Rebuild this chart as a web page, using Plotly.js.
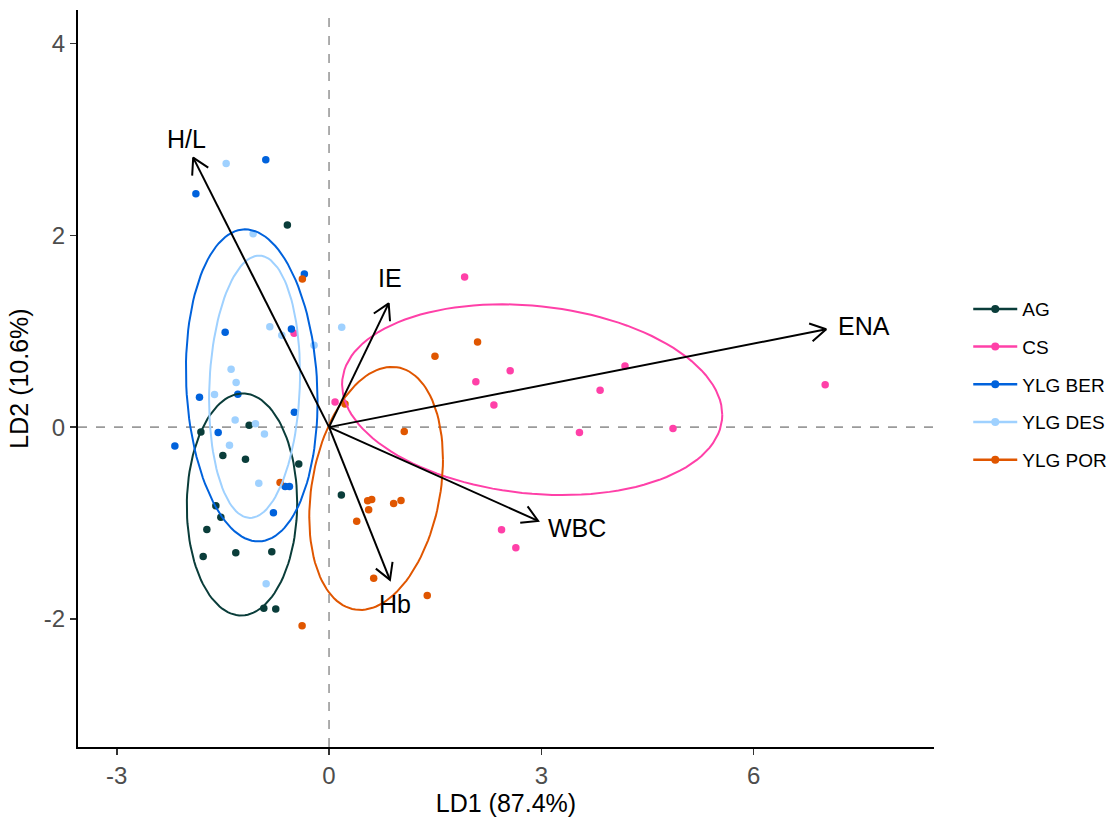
<!DOCTYPE html>
<html><head><meta charset="utf-8">
<script src="https://cdn.plot.ly/plotly-3.0.1.min.js"></script>
<style>html,body{margin:0;padding:0;background:#fff}</style>
</head><body><div id="chart" style="width:1114px;height:817px"></div>
<script>
// ---- data ----
const groups = ['AG', 'CS', 'YLG BER', 'YLG DES', 'YLG POR'];
const groupColors = ['#0A3D3A', '#FF40A8', '#0062DC', '#9FD1FF', '#E05600'];

const agX = [-0.589, -1.129, -1.811, -1.501, -1.181, -0.428, -1.600, -1.529, -1.727, -1.779, -1.318, -0.809, -0.922, -0.753, 0.174];
const agY = [2.107, 0.020, -0.050, -0.297, -0.335, -0.384, -0.821, -0.939, -1.068, -1.349, -1.311, -1.300, -1.888, -1.898, -0.707];

const csX = [-0.494, 0.085, 1.916, 2.075, 2.560, 4.183, 3.831, 2.330, 3.539, 4.861, 7.012, 2.438, 2.640];
const csY = [0.979, 0.262, 1.565, 0.474, 0.589, 0.638, 0.384, 0.231, -0.057, -0.015, 0.443, -1.071, -1.259];

const berX = [-0.894, -1.882, -0.349, -0.532, -1.468, -1.289, -1.831, -0.490, -1.567, -2.179, -0.621, -0.560, -0.786];
const berY = [2.788, 2.434, 1.597, 1.023, 0.989, 0.343, 0.312, 0.155, -0.057, -0.196, -0.620, -0.620, -0.894];

const desX = [-1.454, -1.073, -0.837, 0.179, -0.668, -0.212, -1.384, -1.313, -1.619, -1.327, -1.040, -0.913, -1.407, -0.993, -0.889];
const desY = [2.750, 2.017, 1.047, 1.041, 0.958, 0.854, 0.603, 0.464, 0.339, 0.075, 0.036, -0.071, -0.189, -0.585, -1.634];

const porX = [-0.377, 0.226, 2.099, 1.497, 1.063, 0.546, 0.603, 0.560, 0.913, 1.017, 0.391, 0.631, 1.388, -0.381, -0.692];
const porY = [1.545, 0.242, 0.888, 0.739, -0.047, -0.769, -0.755, -0.863, -0.797, -0.766, -0.981, -1.575, -1.756, -2.072, -0.578];

const groupX = [agX, csX, berX, desX, porX];
const groupY = [agY, csY, berY, desY, porY];

// loading arrows
const arrowNames = ['H/L', 'IE', 'ENA', 'WBC', 'Hb'];
const arrowX = [-1.920, 0.843, 7.026, 2.955, 0.861];
const arrowY = [2.810, 1.291, 1.020, -0.978, -1.592];
const labelX = [-2.02, 0.861, 7.567, 3.50, 0.936];
const labelY = [3.00, 1.555, 1.055, -1.056, -1.840];

const xTicks = [-3, 0, 3, 6];
const yTicks = [-2, 0, 2, 4];

const xRange = [-3.548, 8.55];
const yRange = [-3.336, 4.35];
const margin = {l: 78, r: 180, t: 10, b: 70, autoexpand: false};
const W = 1114, H = 817;
const ellipseLevel = 0.70;

// ---- stat_ellipse(type = "t") : MASS::cov.trob + F-quantile radius ----
function covTrob(xs, ys) {
  const n = xs.length, p = 2, nu = 5;
  let lx = xs.reduce((a, b) => a + b, 0) / n;
  let ly = ys.reduce((a, b) => a + b, 0) / n;
  let w = new Array(n).fill(1);
  let Xx = [], Xy = [];
  for (let iter = 0; iter < 25; iter++) {
    const w0 = w.slice();
    Xx = xs.map(v => v - lx); Xy = ys.map(v => v - ly);
    const sw = w.reduce((a, b) => a + b, 0);
    let s11 = 0, s12 = 0, s22 = 0;
    for (let i = 0; i < n; i++) {
      s11 += w[i] * Xx[i] * Xx[i]; s12 += w[i] * Xx[i] * Xy[i]; s22 += w[i] * Xy[i] * Xy[i];
    }
    s11 /= sw; s12 /= sw; s22 /= sw;
    const det = s11 * s22 - s12 * s12;
    const i11 = s22 / det, i12 = -s12 / det, i22 = s11 / det;
    w = xs.map((_, i) => {
      const q = Xx[i] * Xx[i] * i11 + 2 * Xx[i] * Xy[i] * i12 + Xy[i] * Xy[i] * i22;
      return (nu + p) / (nu + q);
    });
    const sw2 = w.reduce((a, b) => a + b, 0);
    lx = xs.reduce((a, v, i) => a + w[i] * v, 0) / sw2;
    ly = ys.reduce((a, v, i) => a + w[i] * v, 0) / sw2;
    if (w.every((v, i) => Math.abs(v - w0[i]) < 0.01)) break;
  }
  let c11 = 0, c12 = 0, c22 = 0;
  for (let i = 0; i < n; i++) {
    c11 += w[i] * Xx[i] * Xx[i]; c12 += w[i] * Xx[i] * Xy[i]; c22 += w[i] * Xy[i] * Xy[i];
  }
  return {cx: lx, cy: ly, c11: c11 / n, c12: c12 / n, c22: c22 / n};
}
function ellipse(xs, ys, level) {
  const v = covTrob(xs, ys);
  const d = xs.length - 1;
  const qf = (d / 2) * (Math.pow(1 - level, -2 / d) - 1); // qf(level, 2, d)
  const r = Math.sqrt(2 * qf);
  const a = Math.sqrt(v.c11), b = v.c12 / a, c = Math.sqrt(v.c22 - b * b);
  const ex = [], ey = [];
  const seg = 120;
  for (let k = 0; k <= seg; k++) {
    const t = 2 * Math.PI * k / seg;
    ex.push(v.cx + r * a * Math.cos(t));
    ey.push(v.cy + r * (b * Math.cos(t) + c * Math.sin(t)));
  }
  return {x: ex, y: ey};
}

const traces = [];
groups.forEach((g, i) => {
  traces.push({type: 'scatter', mode: 'markers', x: groupX[i], y: groupY[i], name: g,
    legendgroup: g, showlegend: false, hoverinfo: 'x+y+name',
    marker: {color: groupColors[i], size: 7.5}});
});
groups.forEach((g, i) => {
  const e = ellipse(groupX[i], groupY[i], ellipseLevel);
  traces.push({type: 'scatter', mode: 'lines', x: e.x, y: e.y, name: g,
    legendgroup: g, showlegend: false, hoverinfo: 'skip',
    line: {color: groupColors[i], width: 2}});
});

// arrows: shaft from origin + open head (30 deg, ~18 px) computed in screen space
const ppx = (W - margin.l - margin.r) / (xRange[1] - xRange[0]);
const ppy = (H - margin.t - margin.b) / (yRange[1] - yRange[0]);
const headLen = 18, headAng = Math.PI / 6;
arrowNames.forEach((nm, i) => {
  traces.push({type: 'scatter', mode: 'lines', x: [0, arrowX[i]], y: [0, arrowY[i]],
    showlegend: false, hoverinfo: 'skip', line: {color: '#000', width: 2}});
  const ang = Math.atan2(arrowY[i] * ppy, arrowX[i] * ppx);
  const hx = [], hy = [];
  [headAng, 0, -headAng].forEach((da, k) => {
    if (k === 1) { hx.push(arrowX[i]); hy.push(arrowY[i]); return; }
    const a = ang + Math.PI + da;
    hx.push(arrowX[i] + headLen * Math.cos(a) / ppx);
    hy.push(arrowY[i] + headLen * Math.sin(a) / ppy);
  });
  traces.push({type: 'scatter', mode: 'lines', x: hx, y: hy,
    showlegend: false, hoverinfo: 'skip', line: {color: '#000', width: 2}});
});

groups.forEach((g, i) => {
  traces.push({type: 'scatter', mode: 'lines+markers', x: [null], y: [null], name: g,
    legendgroup: g, showlegend: true,
    line: {color: groupColors[i], width: 2.5}, marker: {color: groupColors[i], size: 8}});
});

const annotations = arrowNames.map((nm, i) => ({x: labelX[i], y: labelY[i], xref: 'x', yref: 'y',
  text: nm, showarrow: false, font: {size: 25, color: '#000'}, xanchor: 'center', yanchor: 'middle'}));

const layout = {
  width: W, height: H,
  margin: margin,
  paper_bgcolor: '#fff', plot_bgcolor: '#fff',
  font: {family: 'Liberation Sans, Arial, sans-serif', color: '#000'},
  xaxis: {range: xRange, tickvals: xTicks, ticktext: xTicks.map(String),
    showgrid: false, zeroline: false, showline: true, linecolor: '#000', linewidth: 2,
    ticks: 'outside', ticklen: 6, tickwidth: 1.5, tickcolor: '#333',
    tickfont: {size: 24, color: '#4D4D4D'},
    title: {text: 'LD1 (87.4%)', font: {size: 25, color: '#000'}, standoff: 8}},
  yaxis: {range: yRange, tickvals: yTicks, ticktext: yTicks.map(String),
    showgrid: false, zeroline: false, showline: true, linecolor: '#000', linewidth: 2,
    ticks: 'outside', ticklen: 6, tickwidth: 1.5, tickcolor: '#333',
    tickfont: {size: 24, color: '#4D4D4D'},
    title: {text: 'LD2 (10.6%)', font: {size: 25, color: '#000'}, standoff: 8}},
  shapes: [
    {type: 'line', xref: 'x', yref: 'paper', x0: 0, x1: 0, y0: 0, y1: 1, layer: 'below',
      line: {color: '#9A9A9A', width: 1.6, dash: 'dash'}},
    {type: 'line', xref: 'paper', yref: 'y', x0: 0, x1: 1, y0: 0, y1: 0, layer: 'below',
      line: {color: '#9A9A9A', width: 1.6, dash: 'dash'}}
  ],
  annotations: annotations,
  showlegend: true,
  legend: {x: 1.04, xanchor: 'left', y: 0.62, yanchor: 'top', tracegroupgap: 10, itemwidth: 44,
    font: {size: 19, color: '#000'}, bgcolor: 'rgba(0,0,0,0)'}
};

Plotly.newPlot('chart', traces, layout, {displayModeBar: false, staticPlot: true});
</script>
</body></html>
